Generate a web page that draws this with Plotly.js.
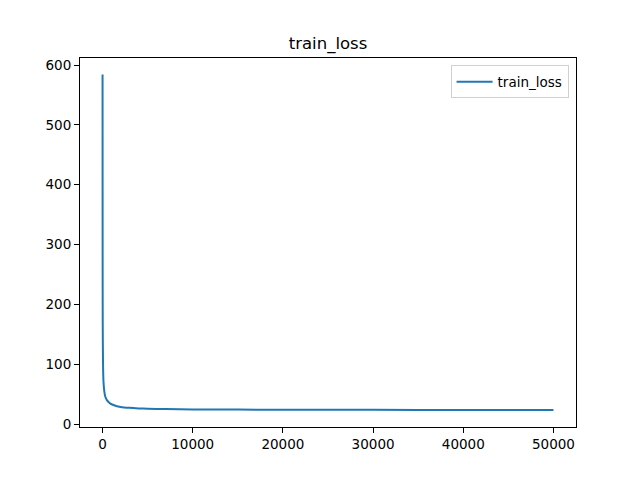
<!DOCTYPE html>
<html>
<head>
<meta charset="utf-8">
<script src="https://cdn.plot.ly/plotly-3.0.1.min.js"></script>
<style>html,body{margin:0;padding:0;background:#fff}#chart{width:640px;height:480px}</style>
</head>
<body>
<div id="chart"></div>
<script>
const steps = [0, 10, 20, 50, 100, 200, 300, 500, 750, 1000, 1500, 2000, 3000, 4000, 5000, 7000, 10000, 15000, 20000, 30000, 40000, 50000];
const trainLoss = [584, 260, 170, 105, 72, 54, 46, 39.5, 35.5, 33, 30.2, 28.6, 27, 26.1, 25.5, 24.9, 24.4, 24.1, 23.9, 23.7, 23.5, 23.4];
const xTicks = [0, 10000, 20000, 30000, 40000, 50000];
const yTicks = [0, 100, 200, 300, 400, 500, 600];

const font = {family: 'DejaVu Sans, sans-serif', color: '#000'};
const axisCommon = {
  showgrid: false, zeroline: false, showline: true, mirror: true,
  linecolor: '#000', linewidth: 1, ticks: 'outside', ticklen: 5, tickwidth: 1,
  tickcolor: '#000', tickfont: {family: font.family, size: 13.5, color: '#000'}
};
Plotly.newPlot('chart', [{
  x: steps, y: trainLoss, type: 'scatter', mode: 'lines', name: 'train_loss',
  line: {color: '#1f77b4', width: 2, shape: 'spline', smoothing: 0.6}
}], {
  width: 640, height: 480,
  margin: {l: 80, r: 64, t: 58, b: 53, pad: 0},
  paper_bgcolor: '#fff', plot_bgcolor: '#fff',
  title: {text: 'train_loss', font: {family: font.family, size: 16.5, color: '#000'},
          xref: 'paper', x: 0.5, xanchor: 'center', yref: 'container', y: 1 - 43/480, yanchor: 'middle'},
  xaxis: Object.assign({}, axisCommon, {range: [-2500, 52500], tickvals: xTicks, ticktext: xTicks.map(String)}),
  yaxis: Object.assign({}, axisCommon, {range: [-5, 611.7], tickvals: yTicks, ticktext: yTicks.map(String)}),
  showlegend: true,
  legend: {x: 0.985, y: 0.98, xanchor: 'right', yanchor: 'top', bgcolor: '#fff',
           bordercolor: '#d0d0d0', borderwidth: 1, itemwidth: 36,
           font: {family: font.family, size: 13.5, color: '#000'}}
}, {displayModeBar: false, staticPlot: true});
</script>
</body>
</html>
